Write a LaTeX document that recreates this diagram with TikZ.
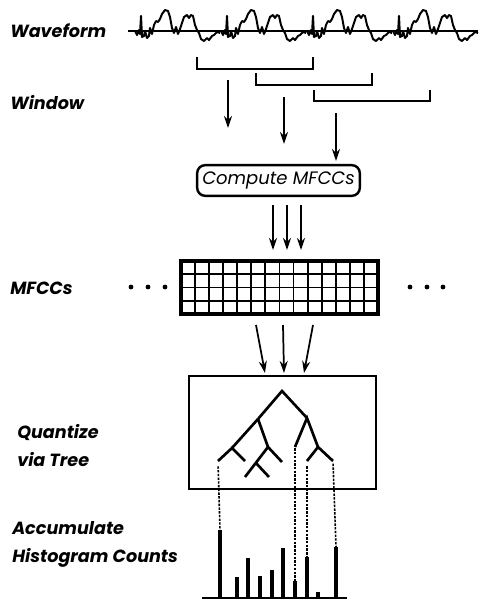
\documentclass[tikz,border=0pt]{standalone}
\usepackage{fontspec}
\setmainfont{Poppins}
\usetikzlibrary{arrows.meta,positioning}

\begin{document}
\begin{tikzpicture}[x=0.75pt,y=-0.75pt,
  every node/.style={font=\fontsize{13.2}{21}\selectfont\bfseries\itshape},
  lbl/.style={anchor=west, inner sep=0pt, align=left},
  wave/.style={line width=1.5pt, line join=round},
  win/.style={line width=1.2pt},
  arr/.style={-{Stealth[length=9pt,width=6pt]}, line width=1.3pt},
  cell/.style={line width=1.4pt},
  branch/.style={line width=2pt},
  link/.style={line width=1.2pt, dash pattern=on 1.8pt off 1pt},
  bar/.style={line width=2.6pt}
]
\useasboundingbox (0,0) rectangle (494,601);

\node[lbl] (wlab) at (10,31) {Waveform};
\node[lbl] (wilab) at (10,103) {Window};
\node[lbl] (mlab) at (10,288) {MFCCs};
\node[lbl] (qlab) at (17,446) {Quantize\\via Tree};
\node[lbl] (hlab) at (12,544) {Accumulate\\Histogram Counts};

\draw[wave] (128,31) -- (478,31);
\foreach \s in {141,227,313,399}
  \draw[wave, shift={(\s,31)}] plot coordinates {(-6,0) (-4,4) (-2,-1) (-1,3) (0,-15) (1,6) (3,5) (4,0) (6,7) (8,5) (9,-3) (11,3) (13,-6) (15,-10) (17,-9) (19,-12) (21,-17) (24,-21) (27,-20) (29,-14) (31,-3) (33,2) (35,-4) (37,3) (39,-2) (41,-8) (43,-14) (46,-16) (48,-13) (50,-16) (52,-15) (54,-6) (56,-1) (58,2) (60,8) (63,10) (66,7) (68,9) (71,5) (73,4) (76,1) (79,2)};

\draw[win] (197,57) |- (313,69) -- (313,57);
\draw[win] (256,73) |- (372,85) -- (372,73);
\draw[win] (314,90) |- (430,101) -- (430,90);

\node[draw, rounded corners=6pt, line width=1.8pt, minimum width=122pt, minimum height=23pt, inner sep=0pt,
  font=\fontsize{13.5}{15}\selectfont\mdseries\itshape] (cmp) at (278.5,180.5) {Compute MFCCs};

\coordinate (w1) at (228,80);  \coordinate (c1) at (228,128);
\coordinate (w2) at (284,97);  \coordinate (c2) at (284,144);
\coordinate (w3) at (336,113); \coordinate (c3) at (336,161);
\draw[arr] (w1) -- (c1);
\draw[arr] (w2) -- (c2);
\draw[arr] (w3) -- (c3);

\coordinate (m1) at (273,205); \coordinate (g1) at (273,250);
\coordinate (m2) at (287,205); \coordinate (g2) at (287,250);
\coordinate (m3) at (301,205); \coordinate (g3) at (301,250);
\draw[arr] (m1) -- (g1);
\draw[arr] (m2) -- (g2);
\draw[arr] (m3) -- (g3);

\node[draw, line width=2.4pt, minimum width=147.75pt, minimum height=39.75pt, inner sep=0pt] (grid) at (279.5,287.5) {};
\foreach \i in {1,...,13}
  \draw[cell] ({181+\i*14.07},261) -- ({181+\i*14.07},314);
\foreach \j in {1,2,3}
  \draw[cell] (181,{261+\j*13.25}) -- (378,{261+\j*13.25});
\foreach \x in {131,148,165,410,427,443}
  \fill (\x,287) circle (1.8pt);

\coordinate (s1) at (256,325); \coordinate (q1) at (265,373);
\coordinate (s2) at (283,325); \coordinate (q2) at (284,373);
\coordinate (s3) at (313,325); \coordinate (q3) at (304,373);
\draw[arr] (s1) -- (q1);
\draw[arr] (s2) -- (q2);
\draw[arr] (s3) -- (q3);

\node[draw, line width=1.5pt, minimum width=140.25pt, minimum height=84.75pt, inner sep=0pt] (qbox) at (282.5,432.5) {};

\coordinate (r) at (282,391);
\coordinate (L) at (258,419);
\coordinate (R) at (307,418);
\coordinate (LL) at (232,448);
\coordinate (LR) at (268,447);
\coordinate (LLa) at (218,461);
\coordinate (LLb) at (245,461);
\coordinate (LRa) at (256,463);
\coordinate (LRaa) at (245,477);
\coordinate (LRab) at (269,477);
\coordinate (LRb) at (282,462);
\coordinate (RL) at (295,447);
\coordinate (RR) at (318,447);
\coordinate (RRa) at (307,461);
\coordinate (RRb) at (333,461);

\draw[branch] (L) -- (r) -- (R);
\draw[branch] (LLa) -- (LL) -- (LLb);
\draw[branch] (L) -- (LL);
\draw[branch] (L) -- (LR) -- (LRb);
\draw[branch] (LR) -- (LRaa);
\draw[branch] (LRa) -- (LRab);
\draw[branch] (RL) -- (R) -- (RR);
\draw[branch] (RRa) -- (RR) -- (RRb);

\draw[line width=1.4pt] (202,598) -- (347,598);
\foreach \x/\t [count=\k] in {220/530,237/577,248/558,260/576,272/570,283/548,295/581,307/557,318/592,336/547}{
  \coordinate (h\k) at (\x,\t);
  \draw[bar] (h\k) -- (\x,598);
}
\draw[bar, line width=3.4pt] (h1) -- (220,598);

\draw[link, shorten <=4pt] (LLa) -- (h1);
\draw[link, shorten <=1pt] (RL) -- (h7);
\draw[link, shorten <=4pt] (RRa) -- (h8);
\draw[link, shorten <=2pt] (RRb) -- (h10);
\end{tikzpicture}
\end{document}
